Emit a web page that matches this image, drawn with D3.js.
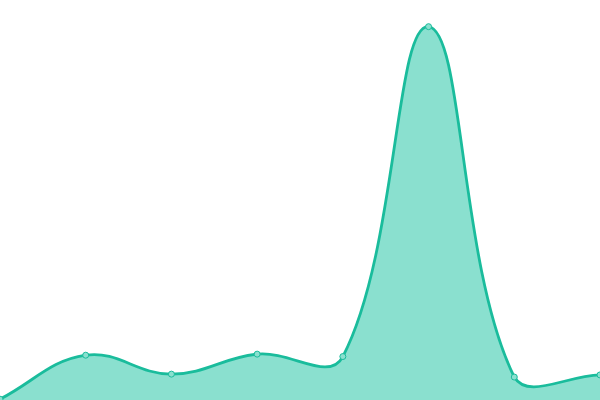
<!DOCTYPE html>
<html>
<head>
<meta charset="utf-8">
<script src="https://cdn.jsdelivr.net/npm/d3@7/dist/d3.min.js"></script>
<style>
  html, body { margin: 0; padding: 0; background: #fff; }
  svg { display: block; }
</style>
</head>
<body>
<svg id="chart" width="600" height="400"></svg>
<script>
// values (arbitrary units)
const categories = ['A', 'B', 'C', 'D', 'E', 'F', 'G', 'H'];
const values = [3, 168, 97, 172, 163, 1400, 86, 94];

const W = 600, H = 400;
const TENSION = 0.4;
const svg = d3.select('#chart');

const x = d3.scalePoint().domain(categories).range([0, W]);
const y = d3.scaleLinear().domain([0, 1500]).range([H, 0]);

const data = categories.map((c, i) => ({ c, v: values[i] }));

// distance-weighted spline (same shape a Chart.js line with tension 0.4 gives),
// control points kept inside the plot area
function SplineCurve(context) { this._context = context; }
SplineCurve.prototype = {
  areaStart() { this._line = 0; },
  areaEnd() { this._line = NaN; },
  lineStart() { this._pts = []; },
  point(px, py) { this._pts.push([+px, +py]); },
  lineEnd() {
    const p = this._pts, n = p.length, ctx = this._context;
    const cap = (v, lo, hi) => Math.max(lo, Math.min(hi, v));
    const cps = p.map((cur, i) => {
      const prev = p[i - 1] || cur, next = p[i + 1] || cur;
      const d01 = Math.hypot(cur[0] - prev[0], cur[1] - prev[1]);
      const d12 = Math.hypot(next[0] - cur[0], next[1] - cur[1]);
      let s01 = d01 / (d01 + d12), s12 = d12 / (d01 + d12);
      if (!isFinite(s01)) s01 = 0;
      if (!isFinite(s12)) s12 = 0;
      const fa = TENSION * s01, fb = TENSION * s12;
      return {
        inX: cap(cur[0] - fa * (next[0] - prev[0]), 0, W),
        inY: cap(cur[1] - fa * (next[1] - prev[1]), 0, H),
        outX: cap(cur[0] + fb * (next[0] - prev[0]), 0, W),
        outY: cap(cur[1] + fb * (next[1] - prev[1]), 0, H)
      };
    });
    if (n) {
      if (this._line) ctx.lineTo(p[0][0], p[0][1]); else ctx.moveTo(p[0][0], p[0][1]);
      for (let i = 1; i < n; i++) {
        ctx.bezierCurveTo(cps[i - 1].outX, cps[i - 1].outY, cps[i].inX, cps[i].inY, p[i][0], p[i][1]);
      }
    }
    if (this._line || (this._line !== 0 && n === 1)) ctx.closePath();
    this._line = 1 - this._line;
  }
};
const spline = context => new SplineCurve(context);

const area = d3.area()
  .x(d => x(d.c)).y0(H).y1(d => y(d.v))
  .curve(spline);
const line = d3.line()
  .x(d => x(d.c)).y(d => y(d.v))
  .curve(spline);

svg.append('path').datum(data)
  .attr('d', area)
  .attr('fill', '#8ae0cf');

svg.append('path').datum(data)
  .attr('d', line)
  .attr('fill', 'none')
  .attr('stroke', '#1abc9c')
  .attr('stroke-width', 2.8);

svg.selectAll('circle.pt').data(data).join('circle')
  .attr('class', 'pt')
  .attr('cx', d => x(d.c)).attr('cy', d => y(d.v))
  .attr('r', 3)
  .attr('fill', '#8ae0cf')
  .attr('stroke', '#1abc9c')
  .attr('stroke-width', 1);
</script>
</body>
</html>
